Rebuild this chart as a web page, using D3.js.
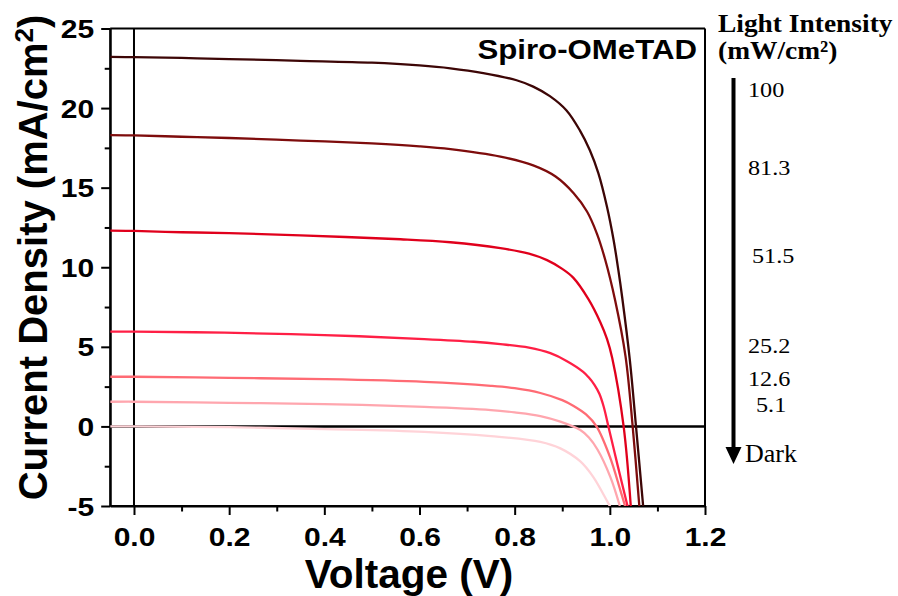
<!DOCTYPE html>
<html>
<head>
<meta charset="utf-8">
<script src="https://cdn.jsdelivr.net/npm/d3@7"></script>
<style>
  html, body { margin: 0; padding: 0; background: #fff; }
  svg { display: block; }
</style>
</head>
<body>
<svg id="chart" width="898" height="596"></svg>
<script>
// ---------------- data ----------------
const intensityLabels = ["100", "81.3", "51.5", "25.2", "12.6", "5.1", "Dark"];

const v100 = [-0.05, 0, 0.1, 0.2, 0.35, 0.5, 0.6, 0.665, 0.734, 0.804, 0.839, 0.874, 0.909, 0.937, 0.958, 0.976, 0.994, 1.008, 1.018, 1.026, 1.042, 1.055, 1.07];
const j100 = [23.22, 23.2, 23.15, 23.08, 22.97, 22.85, 22.68, 22.5, 22.2, 21.75, 21.35, 20.75, 19.85, 18.6, 17.35, 15.9, 13.8, 11.7, 9.8, 8.1, 4.18, 0, -5];

const v81 = [-0.05, 0, 0.1, 0.2, 0.35, 0.5, 0.6, 0.665, 0.77, 0.839, 0.886, 0.924, 0.952, 0.973, 0.99, 1.011, 1.033, 1.048, 1.062];
const j81 = [18.3, 18.28, 18.2, 18.12, 17.96, 17.78, 17.6, 17.42, 16.95, 16.4, 15.7, 14.65, 13.5, 12.1, 10.5, 7.94, 4.4, 0, -5];

const v51 = [-0.05, 0, 0.1, 0.2, 0.35, 0.56, 0.665, 0.77, 0.83, 0.868, 0.9, 0.923, 0.955, 0.98, 0.994, 1.005, 1.029, 1.044];
const j51 = [12.3, 12.28, 12.2, 12.15, 12.0, 11.76, 11.57, 11.2, 10.85, 10.45, 9.9, 9.35, 8.0, 6.55, 5.5, 4.3, 0, -5];

const v25 = [-0.05, 0, 0.19, 0.4, 0.61, 0.714, 0.77, 0.83, 0.875, 0.91, 0.944, 0.955, 0.968, 0.978, 0.987, 0.997, 1.016, 1.038];
const j25 = [5.95, 5.95, 5.89, 5.74, 5.49, 5.32, 5.17, 4.95, 4.6, 4.1, 3.43, 3.1, 2.6, 2.05, 1.25, 0, -2.4, -5.1];

const v12 = [-0.05, 0, 0.2, 0.4, 0.61, 0.75, 0.8, 0.854, 0.9, 0.923, 0.95, 0.972, 1.0, 1.022, 1.034];
const j12 = [3.12, 3.12, 3.05, 2.97, 2.8, 2.55, 2.4, 2.1, 1.65, 1.3, 0.75, 0, -1.9, -4.0, -5.2];

const v5 = [-0.05, 0, 0.2, 0.4, 0.61, 0.75, 0.8, 0.854, 0.896, 0.938, 0.956, 0.974, 1.001, 1.021];
const j5 = [1.55, 1.55, 1.48, 1.4, 1.23, 1.03, 0.88, 0.65, 0.3, -0.23, -0.7, -1.45, -3.17, -5];

const vDark = [-0.05, 0, 0.2, 0.4, 0.61, 0.75, 0.854, 0.896, 0.938, 0.965, 0.997, 1.002];
const jDark = [0, 0, -0.05, -0.17, -0.34, -0.61, -0.97, -1.38, -2.2, -3.17, -4.84, -5.1];

const xTicks = [0.0, 0.2, 0.4, 0.6, 0.8, 1.0, 1.2];
const xMinorTicks = [0.1, 0.3, 0.5, 0.7, 0.9, 1.1];
const yTicks = [-5, 0, 5, 10, 15, 20, 25];
const yMinorTicks = [-2.5, 2.5, 7.5, 12.5, 17.5, 22.5];

// ---------------- styles / layout ----------------
const curveColors = ["#3d0606", "#7e0c0c", "#e0001c", "#ff1f45", "#ff6b74", "#ffa6ae", "#ffd3d8"];
const legendLabelX = [748, 748, 752, 748, 748, 756, 745];
const legendLabelY = [97, 175, 263, 353, 386, 412, 462];

const series = [
  [v100, j100], [v81, j81], [v51, j51], [v25, j25], [v12, j12], [v5, j5], [vDark, jDark]
].map(([v, j], i) => ({
  label: intensityLabels[i],
  color: curveColors[i],
  points: v.map((d, k) => ({ v: d, j: j[k] }))
}));

const svg = d3.select("#chart");
const pLeft = 110.2, pRight = 705, pTop = 28.5, pBottom = 506;

const x = d3.scaleLinear().domain([-0.05, 1.2]).range([pLeft, pRight]);
const y = d3.scaleLinear().domain([-5, 25]).range([pBottom, pTop]);

const sansFont = "'Liberation Sans', Arial, Helvetica, sans-serif";
const serifFont = "'Liberation Serif', 'Times New Roman', serif";

svg.append("defs").append("clipPath").attr("id", "plotClip")
  .append("rect").attr("x", pLeft).attr("y", pTop).attr("width", pRight - pLeft).attr("height", pBottom - pTop);

// frame (top & right)
svg.append("line").attr("x1", pLeft).attr("x2", pRight).attr("y1", pTop).attr("y2", pTop)
  .attr("stroke", "#000").attr("stroke-width", 2);
svg.append("line").attr("x1", pRight).attr("x2", pRight).attr("y1", pTop).attr("y2", pBottom)
  .attr("stroke", "#000").attr("stroke-width", 2);

// zero lines
svg.append("line").attr("x1", pLeft).attr("x2", pRight).attr("y1", y(0)).attr("y2", y(0))
  .attr("stroke", "#000").attr("stroke-width", 2.5);
svg.append("line").attr("x1", x(0)).attr("x2", x(0)).attr("y1", pTop).attr("y2", pBottom)
  .attr("stroke", "#000").attr("stroke-width", 2);

// axes
const tickStretch = 1.2;
const gx = svg.append("g").attr("transform", `translate(0,${pBottom})`)
  .call(d3.axisBottom(x).tickValues(xTicks).tickFormat(d3.format(".1f")).tickSizeInner(9).tickSizeOuter(0));
const gxm = svg.append("g").attr("transform", `translate(0,${pBottom})`)
  .call(d3.axisBottom(x).tickValues(xMinorTicks).tickFormat("").tickSizeInner(5.5).tickSizeOuter(0));
const gy = svg.append("g").attr("transform", `translate(${pLeft},0)`)
  .call(d3.axisLeft(y).tickValues(yTicks).tickFormat(d => String(d)).tickSizeInner(9).tickSizeOuter(0));
const gym = svg.append("g").attr("transform", `translate(${pLeft},0)`)
  .call(d3.axisLeft(y).tickValues(yMinorTicks).tickFormat("").tickSizeInner(5.5).tickSizeOuter(0));

[gx, gxm, gy, gym].forEach(g => {
  g.selectAll(".domain").attr("stroke", "#000").attr("stroke-width", 2);
  g.selectAll(".tick line").attr("stroke", "#000").attr("stroke-width", 2);
});
gx.select(".domain").attr("d", `M${pLeft},0H${pRight}`);
gy.select(".domain").attr("d", `M0,${pBottom}V${pTop}`);

gx.selectAll(".tick text")
  .attr("y", 39.7).attr("dy", 0)
  .attr("font-family", sansFont).attr("font-weight", "bold").attr("font-size", 25)
  .attr("fill", "#000")
  .attr("transform", `scale(${tickStretch},1)`);
gy.selectAll(".tick text")
  .attr("x", -16 / tickStretch).attr("dy", "0.36em")
  .attr("font-family", sansFont).attr("font-weight", "bold").attr("font-size", 25)
  .attr("fill", "#000")
  .attr("transform", `scale(${tickStretch},1)`);

// curves
const line = d3.line().x(d => x(d.v)).y(d => y(d.j)).curve(d3.curveCatmullRom.alpha(0.5));
const curvesG = svg.append("g").attr("clip-path", "url(#plotClip)");
curvesG.selectAll("path").data(series.slice().reverse()).join("path")
  .attr("d", d => line(d.points))
  .attr("fill", "none")
  .attr("stroke", d => d.color)
  .attr("stroke-width", 2.3)
  .attr("stroke-linejoin", "round");

// axis titles
svg.append("text")
  .attr("x", 409).attr("y", 588)
  .attr("text-anchor", "middle")
  .attr("font-family", sansFont).attr("font-weight", "bold").attr("font-size", 40.5)
  .text("Voltage (V)");

const yt = svg.append("text")
  .attr("transform", "translate(47,257.5) rotate(-90)")
  .attr("text-anchor", "middle")
  .attr("font-family", sansFont).attr("font-weight", "bold").attr("font-size", 40);
yt.append("tspan").text("Current Density (mA/cm");
yt.append("tspan").attr("font-size", 26).attr("dy", -14).text("2");
yt.append("tspan").attr("dy", 14).text(")");

// in-plot label
svg.append("text")
  .attr("transform", "translate(697,59) scale(1.115,1)")
  .attr("text-anchor", "end")
  .attr("font-family", sansFont).attr("font-weight", "bold").attr("font-size", 28)
  .text("Spiro-OMeTAD");

// legend (light intensity) title as one text block
const lt = svg.append("text")
  .attr("transform", "translate(718,0) scale(1.055,1)")
  .attr("font-family", serifFont).attr("font-weight", "bold").attr("font-size", 26);
lt.append("tspan").attr("x", 0).attr("y", 32).text("Light Intensity");
lt.append("tspan").attr("x", 0).attr("y", 59).text("(mW/cm²)");

svg.append("line").attr("x1", 733.5).attr("x2", 733.5).attr("y1", 78).attr("y2", 450)
  .attr("stroke", "#000").attr("stroke-width", 4);
svg.append("path").attr("d", "M725.5,447L741.5,447L733.5,464Z").attr("fill", "#000");

svg.append("g").selectAll("text").data(intensityLabels).join("text")
  .attr("transform", (d, i) => `translate(${legendLabelX[i]},${legendLabelY[i]}) scale(${d === "Dark" ? 1 : 1.1},1)`)
  .attr("font-family", serifFont)
  .attr("font-size", d => d === "Dark" ? 26 : 22)
  .text(d => d);
</script>
</body>
</html>
